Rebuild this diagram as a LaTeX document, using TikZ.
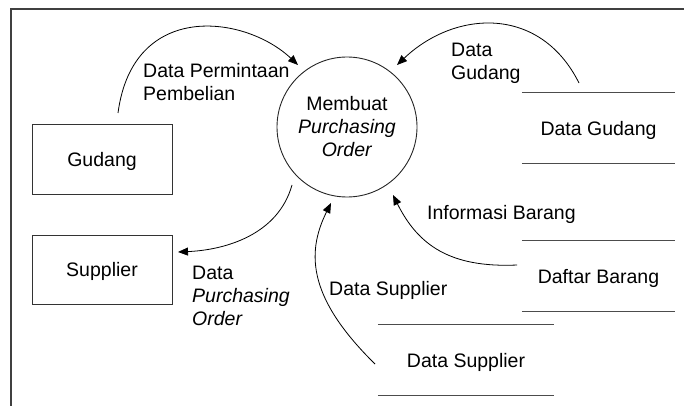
\documentclass[tikz,border=0pt]{standalone}
\usepackage{fontspec}
\setmainfont{Liberation Sans}
\usetikzlibrary{arrows.meta}

\begin{document}
\begin{tikzpicture}[x=1pt,y=-1pt,
  every node/.style={font=\fontsize{19.5}{23}\selectfont, inner sep=0pt},
  entity/.style={draw=black!80, line width=0.9pt, minimum width=140pt, minimum height=70pt, text depth=0pt},
  process/.style={draw=black!85, line width=0.9pt, circle, minimum size=140pt, align=center},
  store/.style={minimum height=70pt, text depth=0pt},
  storeline/.style={draw=black!70, line width=1.3pt},
  flow/.style={draw=black, line width=0.8pt, -{Triangle[length=10pt,width=8pt]}},
  flowtext/.style={align=left, anchor=base west},
  frame/.style={draw=black!75, line width=1.8pt},
]
\useasboundingbox (0,0) rectangle (684,406);

% outer frame (only top and left edges fall inside the page)
\draw[frame] (690,9) -- (11,9) -- (11,410);

% external entities
\node[entity] (gudang) at (102,159) {Gudang};
\node[entity, minimum height=69pt] (supplier) at (102,269.5) {Supplier};

% process
\node[process] (po) at (347,127) {Membuat\\\textit{Purchasing}\\\textit{Order}};

% data stores
\node[store, minimum width=153pt] (dg) at (598.5,128) {Data Gudang};
\node[store, minimum width=153pt] (db) at (598.5,276) {Daftar Barang};
\node[store, minimum width=176pt] (ds) at (466,360) {Data Supplier};
\foreach \s in {dg,db,ds}
  \draw[storeline] (\s.north west) -- (\s.north east)
                   (\s.south west) -- (\s.south east);

% flow end points
\coordinate (f1s) at (118,113);
\coordinate (f1e) at (298,65);
\coordinate (f2s) at (579,83);
\coordinate (f2e) at (397,65);
\coordinate (f3s) at (292,185);
\coordinate (f3e) at (178,252);
\coordinate (f4s) at (375,364);
\coordinate (f4e) at (331,203);
\coordinate (f5s) at (517,265);
\coordinate (f5e) at (393,195);

% data flows
\draw[flow] (f1s) .. controls (133,0) and (245,15) .. (f1e);
\draw[flow] (f2s) .. controls (540,5) and (455,10) .. (f2e);
\draw[flow] (f3s) .. controls (278,235) and (225,250) .. (f3e);
\draw[flow] (f4s) .. controls (310,300) and (305,255) .. (f4e);
\draw[flow] (f5s) .. controls (450,268) and (418,245) .. (f5e);

% flow labels (base anchor sits on the last line)
\node[flowtext] (t1) at (143,101) {Data Permintaan\\Pembelian};
\node[flowtext] (t2) at (451,80) {Data\\Gudang};
\node[flowtext] (t3) at (427,219) {Informasi Barang};
\node[flowtext] (t4) at (329,295) {Data Supplier};
\node[flowtext] (t5) at (192,325) {Data\\\textit{Purchasing}\\\textit{Order}};
\end{tikzpicture}
\end{document}
